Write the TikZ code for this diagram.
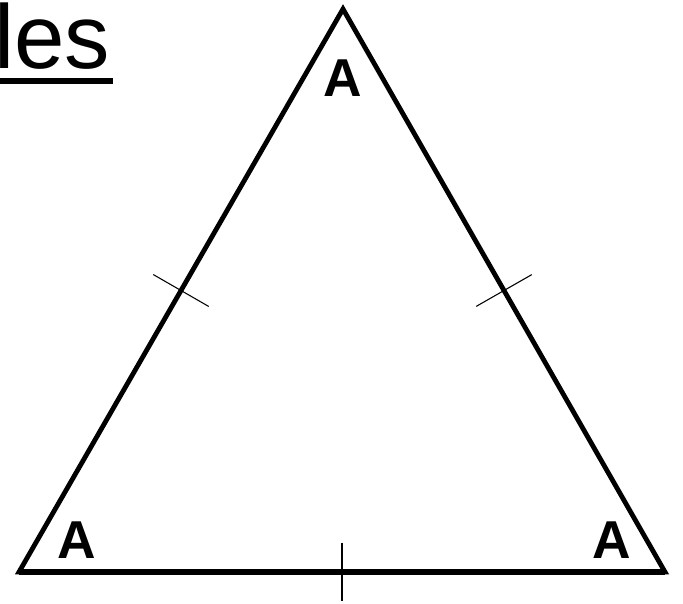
\documentclass[tikz,border=0pt]{standalone}
\usepackage{fontspec}
\setmainfont{Liberation Sans}
\usetikzlibrary{calc}
\begin{document}
\begin{tikzpicture}[x=0.75pt, y=-0.75pt,
  side/.style={line width=3.6pt, line join=miter},
  hashmark/.style={line width=0.8pt},
  vlabel/.style={font=\fontsize{40}{40}\selectfont\bfseries, inner sep=0pt}]
\useasboundingbox (0,0) rectangle (683,604);
\node[anchor=base west, inner sep=0pt, font=\fontsize{68}{68}\selectfont] (title) at (0,68) {\kern-4.6pt les\kern2pt};
\draw[line width=4.8pt] ([yshift=-9.8pt]title.base west) -- ([yshift=-9.8pt]title.base east);
\coordinate (apex) at (343,9);
\coordinate (bl) at (19,572);
\coordinate (br) at (665,572);
\draw[side] (bl) -- (apex) -- (br) -- cycle;
\draw[line width=4.8pt] (bl) -- (br);
\coordinate (ml) at ($(bl)!0.5!(apex)$);
\coordinate (mr) at ($(br)!0.5!(apex)$);
\coordinate (mb) at ($(bl)!0.5!(br)$);
\draw[hashmark] ($(ml)!24pt!90:(apex)$) -- ($(ml)!24pt!-90:(apex)$);
\draw[hashmark] ($(mr)!24pt!90:(apex)$) -- ($(mr)!24pt!-90:(apex)$);
\draw[hashmark] ($(mb)!22pt!90:(br)$) -- ($(mb)!22pt!-90:(br)$);
\node[vlabel] (atop) at (343,78) {A};
\node[vlabel] (aleft) at (77,540) {A};
\node[vlabel] (aright) at (612,540) {A};
\end{tikzpicture}
\end{document}
